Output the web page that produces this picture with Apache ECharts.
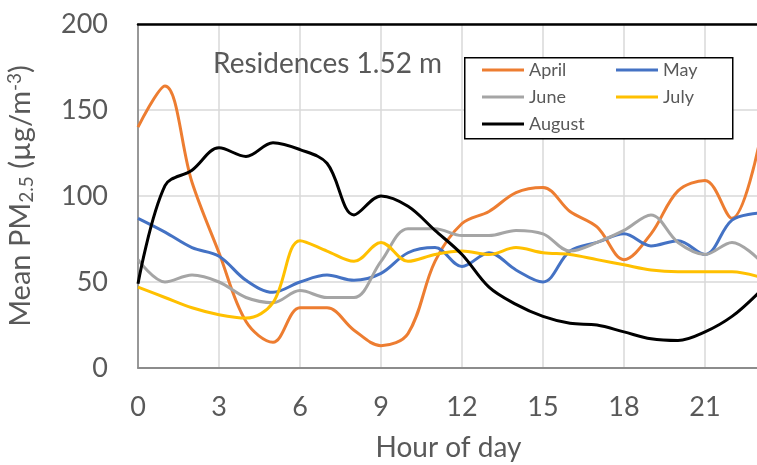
<!DOCTYPE html>
<html>
<head>
<meta charset="utf-8">
<script src="https://cdn.jsdelivr.net/npm/echarts@6/dist/echarts.min.js"></script>
<style>html,body{margin:0;padding:0;background:#fff}#c{width:757px;height:465px}</style>
</head>
<body>
<div id="c"></div>
<script>
const hours = [0,1,2,3,4,5,6,7,8,9,10,11,12,13,14,15,16,17,18,19,20,21,22,23];
const april  = [140,164,108,67,27,15,35,35,22,13,20,62,84,91,102,105,91,82,63,78,103,109,87,130];
const may    = [87,79,70,65,51,44,50,54,51,55,67,70,59,67,57,50,68,73,78,71,74,66,86,90];
const june   = [63,50,54,50,41,38,45,41,41,62,81,81,77,77,80,78,68,73,80,89,73,66,73,63];
const july   = [47,41,35,31,29,38,74,68,62,73,62,66,68,66,70,67,66,63,60,57,56,56,56,53];
const august = [49,106,115,128,123,131,127,119,89,100,94,80,66,47,37,30,26,25,21,17,16,21,30,44];
const seriesNames = ['April','May','June','July','August'];
const seriesColors = ['#ED7D31','#4472C4','#A5A5A5','#FFC000','#000000'];
const seriesData = [april, may, june, july, august];
const xTicks = [0,3,6,9,12,15,18,21];
const yTicks = [0,50,100,150,200];

const FONT = 'Lato';
const chart = echarts.init(document.getElementById('c'));
chart.setOption({
  animation: false,
  textStyle: {fontFamily: FONT},
  title: {
    text: 'Residences 1.52 m', left: 208, top: 45,
    textStyle: {fontFamily: FONT, fontSize: 28, fontWeight: 'normal', color: '#595959'}
  },
  graphic: [{
    type: 'rect', z: 3, left: 464, top: 57,
    shape: {width: 268, height: 81},
    style: {fill: '#fff', stroke: '#000', lineWidth: 1.5}
  }],
  legend: {
    z: 5, left: 482, top: 59, width: 270, itemGap: 5, padding: 0,
    itemWidth: 42, itemHeight: 3, icon: 'rect',
    data: seriesNames,
    textStyle: {fontFamily: FONT, fontSize: 18, color: '#595959', width: 82, lineHeight: 22}
  },
  grid: {left: 138, top: 24, width: 621, height: 344, outerBoundsMode: 'none', containLabel: false},
  xAxis: [{
    type: 'value', min: 0, max: 23, interval: 3,
    name: 'Hour of day', nameLocation: 'middle', nameGap: 66,
    nameTextStyle: {fontFamily: FONT, fontSize: 28, color: '#595959'},
    axisLine: {show: true, onZero: false, lineStyle: {color: '#8c8c8c', width: 2}},
    axisTick: {show: false},
    axisLabel: {margin: 26, fontSize: 27, color: '#595959', fontFamily: FONT, showMaxLabel: false,
      formatter: v => xTicks.includes(v) ? String(v) : ''},
    splitLine: {show: true, lineStyle: {color: '#d9d9d9', width: 1.5}}
  }, {
    type: 'value', position: 'top', min: 0, max: 23,
    axisLine: {show: true, onZero: false, lineStyle: {color: '#000', width: 2.5}},
    axisTick: {show: false}, axisLabel: {show: false}, splitLine: {show: false}
  }],
  yAxis: {
    type: 'value', min: 0, max: 200, interval: 50,
    name: '{a|Mean PM}{sub|2.5}{a| (µg/m}{sup|-3}{a|)}',
    nameLocation: 'middle', nameGap: 94, nameRotate: 90,
    nameTextStyle: {
      fontFamily: FONT, fontSize: 29, color: '#595959',
      rich: {
        a: {fontFamily: FONT, fontSize: 29, color: '#595959', height: 34},
        sub: {fontFamily: FONT, fontSize: 19, color: '#595959', verticalAlign: 'bottom', padding: [12,0,0,0], height: 34},
        sup: {fontFamily: FONT, fontSize: 19, color: '#595959', verticalAlign: 'top', padding: [0,0,12,0], height: 34}
      }
    },
    axisLine: {show: true, lineStyle: {color: '#7f7f7f', width: 1.5}},
    axisTick: {show: false},
    axisLabel: {margin: 30, fontSize: 27, color: '#595959', fontFamily: FONT,
      formatter: v => yTicks.includes(v) ? String(v) : ''},
    splitLine: {show: true, lineStyle: {color: '#d9d9d9', width: 1.5}}
  },
  series: seriesNames.map((n, i) => ({
    name: n, type: 'line', smooth: 0.35, symbol: 'none', z: 2,
    lineStyle: {color: seriesColors[i], width: 3},
    itemStyle: {color: seriesColors[i]},
    data: hours.map((h, j) => [h, seriesData[i][j]])
  }))
});
</script>
</body>
</html>
